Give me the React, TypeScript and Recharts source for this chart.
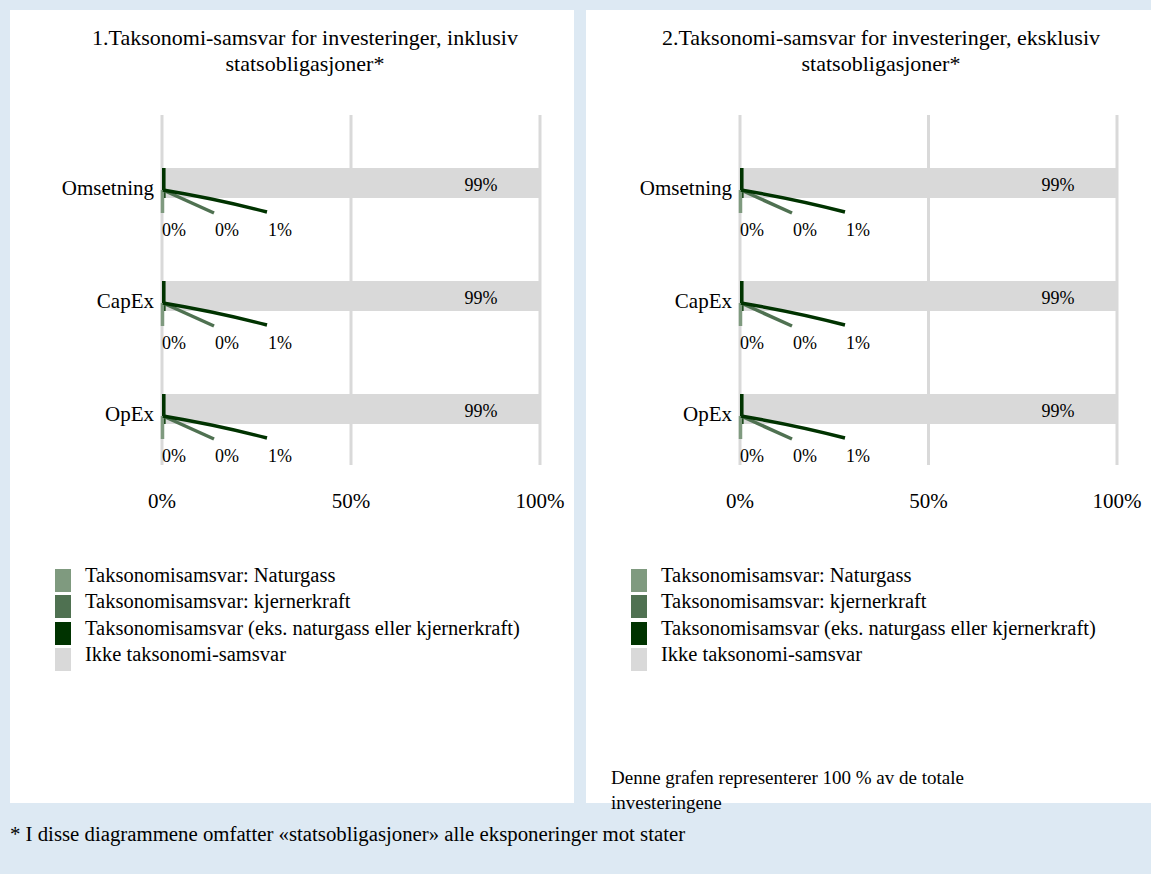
import { BarChart, Bar, XAxis, YAxis, CartesianGrid, LabelList, Legend } from "recharts";

// categories and values (percent of investments)
const categories = ["Omsetning", "CapEx", "OpEx"];

// chart 1: including sovereign bonds
const naturgassInkl = [0, 0, 0];
const kjernerkraftInkl = [0, 0, 0];
const eksInkl = [1, 1, 1];
const ikkeInkl = [99, 99, 99];

// chart 2: excluding sovereign bonds
const naturgassEkskl = [0, 0, 0];
const kjernerkraftEkskl = [0, 0, 0];
const eksEkskl = [1, 1, 1];
const ikkeEkskl = [99, 99, 99];

const xTicks = [0, 50, 100];

const seriesKeys = ["naturgass", "kjernerkraft", "eks", "ikke"];
const seriesNames = [
  "Taksonomisamsvar: Naturgass",
  "Taksonomisamsvar: kjernerkraft",
  "Taksonomisamsvar (eks. naturgass eller kjernerkraft)",
  "Ikke taksonomi-samsvar",
];
const seriesColors = ["#7f9a7f", "#4f7151", "#003300", "#d9d9d9"];

const FONT = "'Liberation Serif', 'Times New Roman', serif";

const buildRows = (a: number[], b: number[], c: number[], d: number[]) =>
  categories.map((name, i) => ({ name, naturgass: a[i], kjernerkraft: b[i], eks: c[i], ikke: d[i] }));

// leader lines + labels under the bar for the three small series.
// zero-width bars get no label from recharts, so they are all drawn from the "eks" labels
const leaderLabels = (rows: any[]) => (props: any) => {
  const { x, y, height, index } = props;
  const row = rows[index] || rows.find((r) => r.eks === props.value) || rows[0];
  const cy = y + height / 2;
  const vals = [row.naturgass, row.kjernerkraft, row.eks];
  const paths = [
    `M${x + 0.5},${cy + 7} L${x + 0.5},${cy + 30}`,
    `M${x + 1},${cy + 7} L${x + 52},${cy + 30}`,
    `M${x + 1},${cy + 7} Q${x + 55},${cy + 16} ${x + 105},${cy + 29}`,
  ];
  return (
    <g>
      {paths.map((d, i) => (
        <path key={i} d={d} stroke={seriesColors[i]} strokeWidth={3.5} fill="none" />
      ))}
      {vals.map((v, i) => (
        <text key={i} x={x + i * 53} y={cy + 47} fontSize={18} fill="#000" dominantBaseline="central" fontFamily={FONT}>
          {`${v}%`}
        </text>
      ))}
    </g>
  );
};

const endLabel = (props: any) => {
  const { x, y, width, height, value } = props;
  return (
    <text x={x + width - 59} y={y + height / 2 + 2} fontSize={18} fill="#000" textAnchor="middle" dominantBaseline="central" fontFamily={FONT}>
      {`${value}%`}
    </text>
  );
};

const CategoryTick = (props: any) => {
  const { x, y, payload } = props;
  return (
    <text x={x} y={y + 5} fontSize={21} fill="#000" textAnchor="end" dominantBaseline="central" fontFamily={FONT}>
      {payload.value}
    </text>
  );
};

const LegendBox = () => (
  <div style={{ fontFamily: FONT, fontSize: 20.5, color: "#000" }}>
    {seriesNames.map((n, i) => (
      <div key={n} style={{ position: "relative", height: 26.3 }}>
        <span style={{ position: "absolute", left: 0, top: 0, width: 16, height: 23, background: seriesColors[i] }} />
        <span style={{ position: "absolute", left: 30, top: -7, lineHeight: "26px", whiteSpace: "nowrap" }}>{n}</span>
      </div>
    ))}
  </div>
);

function TaxonomyChart({ data, yWidth, right }: { data: any[]; yWidth: number; right: number }) {
  return (
    <BarChart
      width={564}
      height={680}
      data={data}
      layout="vertical"
      margin={{ top: 105, right, left: 0, bottom: 195 }}
      style={{ fontFamily: FONT }}
    >
      <CartesianGrid horizontal={false} stroke="#d9d9d9" strokeWidth={3} />
      <XAxis
        type="number"
        domain={[0, 100]}
        ticks={xTicks}
        tickFormatter={(v) => `${v}%`}
        axisLine={false}
        tickLine={false}
        tickMargin={22}
        tick={{ fontSize: 21, fill: "#000", fontFamily: FONT }}
        height={30}
      />
      <YAxis
        type="category"
        dataKey="name"
        width={yWidth}
        axisLine={false}
        tickLine={false}
        padding={{ top: 11, bottom: 0 }}
        tick={<CategoryTick />}
      />
      <Legend
        layout="vertical"
        align="center"
        verticalAlign="middle"
        content={() => <LegendBox />}
        wrapperStyle={{ left: 45, top: 559, width: 520 }}
      />
      {seriesKeys.map((k, i) => (
        <Bar key={k} dataKey={k} name={seriesNames[i]} stackId="a" fill={seriesColors[i]} barSize={30} isAnimationActive={false}>
          {k === "eks" && <LabelList dataKey={k} content={leaderLabels(data)} />}
          {k === "ikke" && <LabelList dataKey={k} content={endLabel} />}
        </Bar>
      ))}
    </BarChart>
  );
}

const titleStyle: any = {
  position: "absolute",
  top: 15,
  left: 0,
  width: 590,
  textAlign: "center",
  fontSize: 22,
  lineHeight: "26px",
};

export default function App() {
  const data1 = buildRows(naturgassInkl, kjernerkraftInkl, eksInkl, ikkeInkl);
  const data2 = buildRows(naturgassEkskl, kjernerkraftEkskl, eksEkskl, ikkeEkskl);
  return (
    <div style={{ position: "absolute", left: 0, top: 0, width: 1151, height: 874, background: "#dde9f3", fontFamily: FONT, color: "#000", overflow: "hidden" }}>
      <div style={{ position: "absolute", left: 10, top: 10, width: 564, height: 793, background: "#fff" }}>
        <div style={titleStyle}>
          1.Taksonomi-samsvar for investeringer, inklusiv
          <br />
          statsobligasjoner*
        </div>
        <div style={{ position: "absolute", left: 0, top: 0 }}>
          <TaxonomyChart data={data1} yWidth={152} right={34} />
        </div>
      </div>
      <div style={{ position: "absolute", left: 586, top: 10, width: 565, height: 793, background: "#fff" }}>
        <div style={titleStyle}>
          2.Taksonomi-samsvar for investeringer, eksklusiv
          <br />
          statsobligasjoner*
        </div>
        <div style={{ position: "absolute", left: 0, top: 0 }}>
          <TaxonomyChart data={data2} yWidth={154} right={33} />
        </div>
        <div style={{ position: "absolute", left: 25, top: 755, fontSize: 19, lineHeight: "25px", whiteSpace: "nowrap" }}>
          Denne grafen representerer 100 % av de totale
          <br />
          investeringene
        </div>
      </div>
      <div style={{ position: "absolute", left: 10, top: 821, fontSize: 20.8, lineHeight: "26px", whiteSpace: "nowrap" }}>
        * I disse diagrammene omfatter «statsobligasjoner» alle eksponeringer mot stater
      </div>
    </div>
  );
}
